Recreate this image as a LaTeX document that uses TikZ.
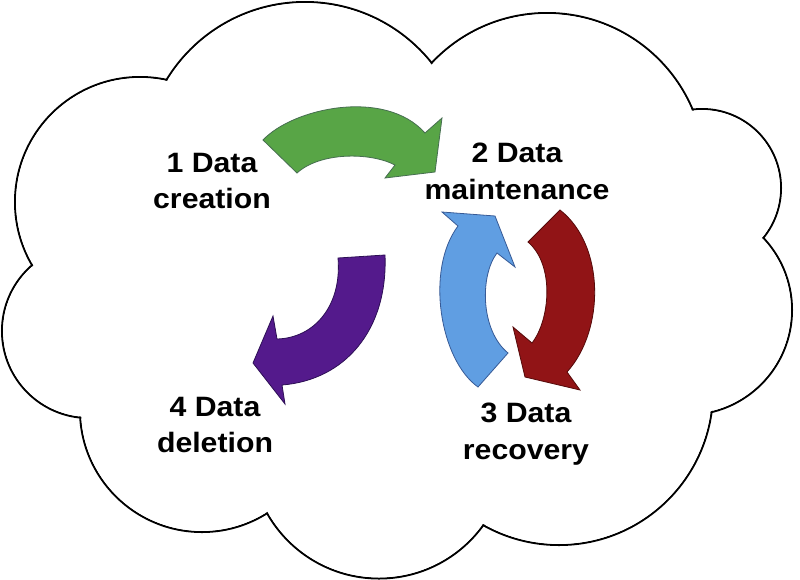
\documentclass[tikz,border=0pt]{standalone}
\usepackage{fontspec}
\newfontfamily\lab[FakeStretch=1.08]{Liberation Sans}
\usetikzlibrary{calc}
\definecolor{grn}{RGB}{88,165,70}
\definecolor{grnD}{RGB}{70,110,80}
\definecolor{prp}{RGB}{84,26,140}
\definecolor{prpD}{RGB}{45,15,85}
\definecolor{blu}{RGB}{96,158,226}
\definecolor{bluD}{RGB}{55,90,150}
\definecolor{rd}{RGB}{145,20,22}
\definecolor{rdD}{RGB}{85,10,10}
\begin{document}
\begin{tikzpicture}[x=1pt,y=-1pt,
  lbl/.style={font=\lab\bfseries\fontsize{28}{36.5}\selectfont, align=center, inner sep=0pt, anchor=north, text=black},
  arr/.style={line width=0.8pt, line join=miter},
  cloudline/.style={line width=2pt, draw=black}]
\useasboundingbox (0,0) rectangle (800,579);
\fill[white] (0,0) rectangle (800,579);
% cloud outline as union of circles
\foreach \cx/\cy/\r in {305/164/162, 547/171/158, 702/188/79, 687/310/105, 559/391/154, 379/450/128.5, 202/410/122, 89/331/87, 140/202/125}
  \draw[cloudline] (\cx,\cy) circle[radius=\r pt];
\foreach \cx/\cy/\r in {305/164/162, 547/171/158, 702/188/79, 687/310/105, 559/391/154, 379/450/128.5, 202/410/122, 89/331/87, 140/202/125}
  \fill[white] (\cx,\cy) circle[radius=\r pt - 1.1pt];
\coordinate (ctr) at (400,300);
\fill[white] ($(167,80)!6pt!(ctr)$) -- ($(432,63)!6pt!(ctr)$) -- ($(693,110)!6pt!(ctr)$)
  -- ($(763,238)!6pt!(ctr)$) -- ($(712,412)!6pt!(ctr)$) -- ($(483,525)!6pt!(ctr)$)
  -- ($(267,513)!6pt!(ctr)$) -- ($(80,418)!6pt!(ctr)$) -- ($(32,265)!6pt!(ctr)$) -- cycle;
% green arrow
\filldraw[arr, fill=grn, draw=grnD] (263,140) .. controls (293,108) and (385,88) .. (425,133)
  -- (442,118) -- (435,172) -- (385,178) -- (395,165)
  .. controls (370,152) and (320,152) .. (297,173) -- cycle;
% purple arrow
\filldraw[arr, fill=prp, draw=prpD] (338,258) -- (385,255)
  .. controls (388,330) and (345,380) .. (282,385)
  -- (285,404) -- (253,363) -- (273,316) -- (277,339)
  .. controls (315,338) and (342,305) .. (338,258) -- cycle;
% blue arrow
\filldraw[arr, fill=blu, draw=bluD] (478,387) .. controls (440,360) and (425,270) .. (458,226)
  -- (442,212) -- (495,216) -- (515,267) -- (497,253)
  .. controls (480,275) and (480,330) .. (508,353) -- cycle;
% red arrow
\filldraw[arr, fill=rd, draw=rdD] (528,242) -- (560,210)
  .. controls (605,245) and (605,330) .. (567,372)
  -- (580,390) -- (525,377) -- (513,327) -- (532,343)
  .. controls (550,320) and (555,265) .. (528,242) -- cycle;
% labels
\node[lbl] (l1) at (212,153) {1 Data\\creation};
\node[lbl] (l2) at (517,143) {2 Data\\maintenance};
\node[lbl] (l3) at (526,403) {3 Data\\recovery};
\node[lbl] (l4) at (215,397) {4 Data\\deletion};
\end{tikzpicture}
\end{document}
